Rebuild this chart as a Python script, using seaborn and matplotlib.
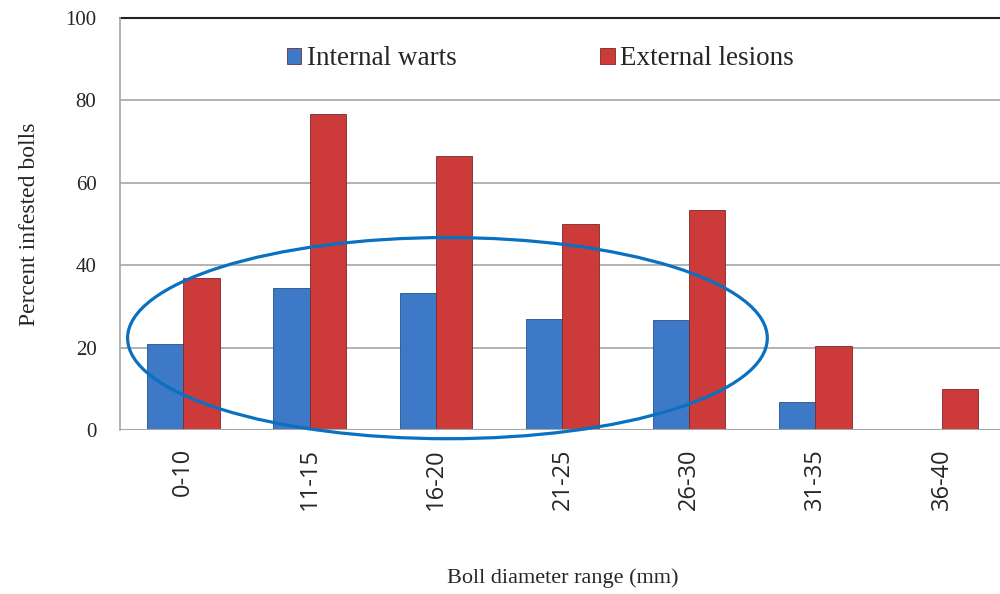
import numpy as np
import pandas as pd
import matplotlib
matplotlib.use("Agg")
import matplotlib.pyplot as plt
import seaborn as sns
from matplotlib.patches import Ellipse

ranges = ["0-10", "11-15", "16-20", "21-25", "26-30", "31-35", "36-40"]
internal_warts = [20.9, 34.5, 33.2, 26.9, 26.7, 6.9, 0.0]
external_lesions = [36.8, 76.6, 66.5, 50.1, 53.4, 20.5, 9.9]
series = ["Internal warts", "External lesions"]

df = pd.DataFrame({
    "range": ranges * 2,
    "series": [series[0]] * len(ranges) + [series[1]] * len(ranges),
    "value": internal_warts + external_lesions,
})

sns.set_style("white")
serif = ["Liberation Serif", "DejaVu Serif"]

fig = plt.figure(figsize=(10, 5.94), dpi=100)
ax = fig.add_axes([0.12, 0.276, 0.885, 0.694])

sns.barplot(data=df, x="range", y="value", hue="series", order=ranges,
            hue_order=series, palette=["#3d79c7", "#cc3b39"], width=0.575,
            edgecolor="#7a2a28", linewidth=0.6, saturation=1, ax=ax)
for bar in ax.patches[:len(ranges)]:
    bar.set_edgecolor("#24508a")

ax.set_ylim(0, 100)
ax.set_xlim(-0.5, 6.5)
ax.set_yticks(range(0, 101, 20))
ax.yaxis.grid(True, color="#a6a6a6", linewidth=1.2)
ax.set_axisbelow(True)
for s in ["top", "right", "bottom"]:
    ax.spines[s].set_visible(False)
ax.spines["left"].set_color("#a6a6a6")
ax.spines["left"].set_linewidth(1.2)
ax.axhline(0, color="#a6a6a6", linewidth=1.5, zorder=1)
ax.axhline(100, color="#222222", linewidth=1.5, zorder=1, clip_on=False)

ax.tick_params(axis="y", length=7, color="#a6a6a6", width=1.2, pad=10)
for lbl in ax.get_yticklabels():
    lbl.set_fontfamily(serif)
    lbl.set_fontsize(15)

ax.set_xticks(np.arange(-0.5, 7.0, 1.0), minor=True)
ax.tick_params(axis="x", which="minor", length=7, color="#a6a6a6", width=1.2)
ax.tick_params(axis="x", which="major", length=0, pad=13)
ax.set_xticklabels(ranges, rotation=90, fontsize=17, fontfamily="Open Sans")

ax.set_xlabel("Boll diameter range (mm)", fontsize=16, fontfamily=serif, labelpad=42)
ax.set_ylabel("Percent infested bolls", fontsize=17, fontfamily=serif, labelpad=18)

leg = ax.legend(loc="upper center", bbox_to_anchor=(0.475, 0.99), ncol=2, frameon=False,
                prop={"family": serif, "size": 19.5}, handlelength=0.55, handleheight=0.55,
                handletextpad=0.2, columnspacing=5.3)

ell = Ellipse((2.09, 22.3), 5.06, 48.8, fill=False, edgecolor="#0a70c0",
              linewidth=2.3, clip_on=False, zorder=5)
ax.add_patch(ell)

fig.savefig("out.png", dpi=100)
